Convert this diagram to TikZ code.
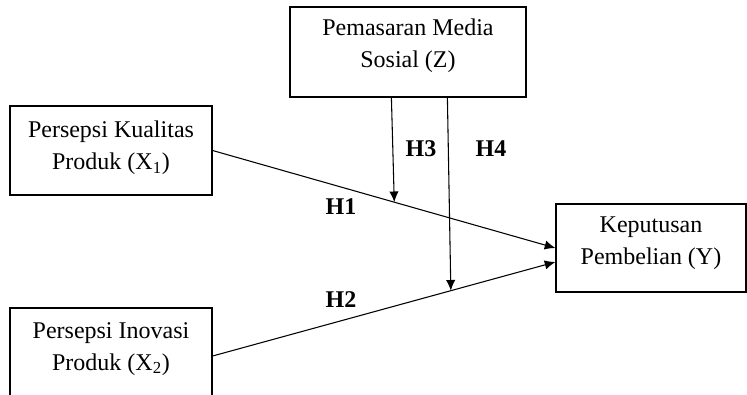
\documentclass[tikz,border=0pt]{standalone}
\usepackage{fontspec}
\setmainfont{Liberation Serif}
\usetikzlibrary{calc,arrows.meta}
\begin{document}
\begin{tikzpicture}[x=0.75pt,y=-0.75pt,
  boxnode/.style={draw, line width=0.9pt, inner sep=0pt},
  txtnode/.style={align=center, font=\fontsize{18pt}{24pt}\selectfont, inner sep=0pt},
  conn/.style={line width=0.8pt, -{Latex[length=8pt,width=7pt]}},
  hlab/.style={font=\fontsize{18pt}{20pt}\selectfont\bfseries, inner sep=0pt}]
\useasboundingbox (0,0) rectangle (747,394);
% boxes
\node[boxnode, minimum width=236*0.75pt, minimum height=90*0.75pt] (Z) at (408,52) {};
\node[txtnode] (Zt) at (408,46) {Pemasaran Media\\Sosial (Z)};
\node[boxnode, minimum width=202*0.75pt, minimum height=89*0.75pt] (X1) at (111,150.5) {};
\node[txtnode] (X1t) at (111,148) {Persepsi Kualitas\\Produk (X\textsubscript{1})};
\node[boxnode, minimum width=202*0.75pt, minimum height=96*0.75pt] (X2) at (111,356) {};
\node[txtnode] (X2t) at (111,349) {Persepsi Inovasi\\Produk (X\textsubscript{2})};
\node[boxnode, minimum width=190*0.75pt, minimum height=88*0.75pt] (Y) at (651,248) {};
\node[txtnode] (Yt) at (651,243) {Keputusan\\Pembelian (Y)};
% connectors
\draw[conn] (X1.east) -- (Y.west);
\draw[conn] (X2.east) -- ($(Y.west)+(0,14)$);
\coordinate (m3) at ($(X1.east)!0.53!(Y.west)$);
\coordinate (m4) at ($(X2.east)!0.695!($(Y.west)+(0,14)$)$);
\draw[conn] ($(Z.south west)+(102,0)$) -- (m3);
\draw[conn] ($(Z.south west)+(158,0)$) -- (m4);
% labels
\node[hlab] (H1) at (341,207) {H1};
\node[hlab] (H2) at (341,300) {H2};
\node[hlab] (H3) at (421,149) {H3};
\node[hlab] (H4) at (491,149) {H4};
\end{tikzpicture}
\end{document}
